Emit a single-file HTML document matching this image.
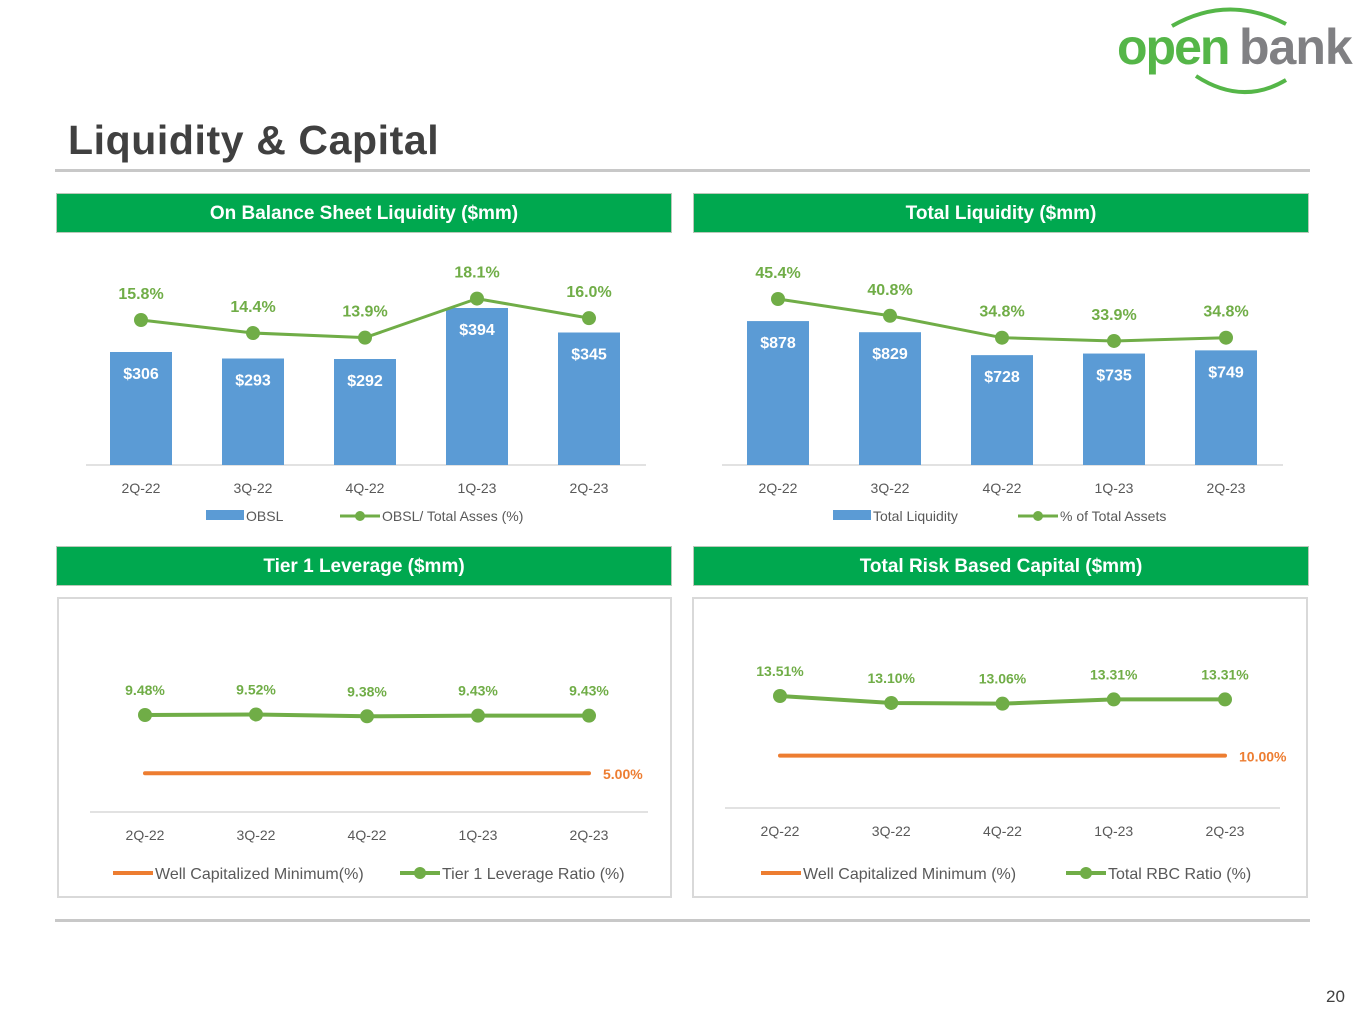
<!DOCTYPE html>
<html><head><meta charset="utf-8"><style>
html,body{margin:0;padding:0;background:#fff;}
body{width:1365px;height:1024px;position:relative;overflow:hidden;font-family:"Liberation Sans",sans-serif;}
.hdr{position:absolute;height:40px;background:#00a84f;border:1px solid #b9c9b9;box-sizing:border-box;color:#fff;font-weight:bold;font-size:19px;text-align:center;line-height:40px;}
svg text{font-family:"Liberation Sans",sans-serif;}
</style></head><body>
<div style="position:absolute;left:68px;top:117px;font-size:41px;font-weight:bold;color:#404040;letter-spacing:0.6px;">Liquidity &amp; Capital</div>
<div style="position:absolute;left:55px;top:169px;width:1255px;height:3px;background:#c8c8c8;"></div>
<div style="position:absolute;left:55px;top:919px;width:1255px;height:3px;background:#c8c8c8;"></div>
<div style="position:absolute;left:1326px;top:987px;font-size:17px;color:#404040;">20</div>
<div style="position:absolute;left:1110px;top:0;width:255px;height:100px;">
<svg width="255" height="100"><path d="M62 26 Q118 -6 176 24" fill="none" stroke="#55b648" stroke-width="4"/><path d="M86 76 Q132 106 176 80" fill="none" stroke="#55b648" stroke-width="4"/>
<text x="7" y="64" font-size="50" font-weight="bold" fill="#55b648" letter-spacing="-2">open</text><text x="129" y="64" font-size="50" font-weight="bold" fill="#808083" letter-spacing="-1">bank</text></svg></div>
<div class="hdr" style="left:56px;top:193px;width:616px;">On Balance Sheet Liquidity ($mm)</div>
<div class="hdr" style="left:693px;top:193px;width:616px;">Total Liquidity ($mm)</div>
<div class="hdr" style="left:56px;top:546px;width:616px;">Tier 1 Leverage ($mm)</div>
<div class="hdr" style="left:693px;top:546px;width:616px;">Total Risk Based Capital ($mm)</div>
<div style="position:absolute;left:57px;top:597px;width:615px;height:301px;border:2px solid #d9d9d9;box-sizing:border-box;"></div>
<div style="position:absolute;left:692px;top:597px;width:616px;height:301px;border:2px solid #d9d9d9;box-sizing:border-box;"></div>
<svg id="charts" width="1365" height="1024" style="position:absolute;left:0;top:0;"></svg>
<script>
const categories=["2Q-22","3Q-22","4Q-22","1Q-23","2Q-23"];
const obslValues=[306,293,292,394,345];
const obslPct=[15.8,14.4,13.9,18.1,16.0];
const liqValues=[878,829,728,735,749];
const liqPct=[45.4,40.8,34.8,33.9,34.8];
const tier1Ratio=[9.48,9.52,9.38,9.43,9.43];
const tier1Min=[5.00];
const rbcRatio=[13.51,13.10,13.06,13.31,13.31];
const rbcMin=[10.00];

const svg=document.getElementById('charts');
const NS='http://www.w3.org/2000/svg';
function mk(tag,attrs,parent){const e=document.createElementNS(NS,tag);for(const k in attrs)e.setAttribute(k,attrs[k]);(parent||svg).appendChild(e);return e;}
function txt(x,y,s,size,fill,weight,anchor){const t=mk('text',{x:x,y:y,'font-size':size,fill:fill,'font-weight':weight||'normal','text-anchor':anchor||'middle'});t.textContent=s;return t;}
const GREEN='#70ad47',BLUE='#5b9bd5',ORANGE='#ed7d31',GRAY='#595959';

function xAt(x0,i){return x0+i*112;}

function barChart(name,x0,base,vals,vBase,vScale,pct,pBase,pY,pScale,fmtP,leg1,leg2,legX1,legX2,axL,axR){
  const g=mk('g',{});
  
  
  const ax=mk('line',{x1:axL,x2:axR,y1:base,y2:base,stroke:'#d9d9d9','stroke-width':1.5},g);
  
  
  vals.forEach((v,i)=>{
    const cx=xAt(x0,i);const top=base-(v-vBase)*vScale;
    const r=mk('rect',{x:cx-31,y:top,width:62,height:base-top,fill:BLUE},g);
    
    
    const t=txt(cx,top+27,'$'+v,16,'#fff','bold');g.appendChild(t);
    
    
    const c=txt(cx,base+28,categories[i],14,GRAY);g.appendChild(c);
    
    
  });
  const pts=pct.map((p,i)=>[xAt(x0,i),pY-(p-pBase)*pScale]);
  const pl=mk('polyline',{points:pts.map(p=>p.join(',')).join(' '),fill:'none',stroke:GREEN,'stroke-width':3},g);
  
  
  pts.forEach((p,i)=>{
    const c=mk('circle',{cx:p[0],cy:p[1],r:7,fill:GREEN},g);
    
    
    const t=txt(p[0],p[1]-21,pct[i].toFixed(1)+'%',16,GREEN,'bold');g.appendChild(t);
    
    
  });
  const ly=516;
  const lr=mk('rect',{x:legX1,y:ly-6,width:38,height:10,fill:BLUE},g);
  
  
  const lt=txt(legX1+40,ly+5,leg1,14,GRAY,'normal','start');g.appendChild(lt);
  
  
  const ll=mk('line',{x1:legX2,x2:legX2+40,y1:ly,y2:ly,stroke:GREEN,'stroke-width':3},g);
  
  
  mk('circle',{cx:legX2+20,cy:ly,r:5,fill:GREEN},g);
  const lt2=txt(legX2+42,ly+5,leg2,14,GRAY,'normal','start');g.appendChild(lt2);
  
  
}
barChart('obsl-chart',141,465,obslValues,80,0.5,obslPct,15.8,320,9.3,null,'OBSL','OBSL/ Total Asses (%)',206,340,86,646);
barChart('total-liquidity-chart',778,465,liqValues,244,0.227,liqPct,45.4,299,3.65,null,'Total Liquidity','% of Total Assets',833,1018,722,1283);

function lineChart(name,x0,step,vals,vRef,yRef,scale,minV,axY,leg1,leg2,legX1,legX2,axL,axR,legY){
  const g=mk('g',{});
  
  
  const X=i=>x0+i*step;
  const ax=mk('line',{x1:axL,x2:axR,y1:axY,y2:axY,stroke:'#d9d9d9','stroke-width':1.5},g);
  
  
  categories.forEach((c,i)=>{const t=txt(X(i),axY+28,c,14,GRAY);g.appendChild(t);
    
    });
  const my=yRef-(minV-vRef)*scale;
  const ml=mk('line',{x1:X(0),x2:X(4),y1:my,y2:my,stroke:ORANGE,'stroke-width':4,'stroke-linecap':'round'},g);
  
  
  const mt=txt(X(4)+14,my+6,minV.toFixed(2)+'%',14,ORANGE,'bold','start');g.appendChild(mt);
  
  
  const pts=vals.map((v,i)=>[X(i),yRef-(v-vRef)*scale]);
  const pl=mk('polyline',{points:pts.map(p=>p.join(',')).join(' '),fill:'none',stroke:GREEN,'stroke-width':4},g);
  
  
  pts.forEach((p,i)=>{
    const c=mk('circle',{cx:p[0],cy:p[1],r:7,fill:GREEN},g);
    
    
    const t=txt(p[0],p[1]-20,vals[i].toFixed(2)+'%',14,GREEN,'bold');g.appendChild(t);
    
    
  });
  const l1=mk('line',{x1:legX1,x2:legX1+40,y1:legY,y2:legY,stroke:ORANGE,'stroke-width':4},g);
  
  
  const t1=txt(legX1+42,legY+6,leg1,16,GRAY,'normal','start');g.appendChild(t1);
  
  
  const l2=mk('line',{x1:legX2,x2:legX2+40,y1:legY,y2:legY,stroke:GREEN,'stroke-width':4},g);
  
  
  mk('circle',{cx:legX2+20,cy:legY,r:6,fill:GREEN},g);
  const t2=txt(legX2+42,legY+6,leg2,16,GRAY,'normal','start');g.appendChild(t2);
  
  
}
lineChart('tier1-chart',145,111,tier1Ratio,9.48,715,13,tier1Min[0],812,'Well Capitalized Minimum(%)','Tier 1 Leverage Ratio (%)',113,400,90,648,873);
lineChart('rbc-chart',780,111.25,rbcRatio,13.51,696,17,rbcMin[0],808,'Well Capitalized Minimum (%)','Total RBC Ratio (%)',761,1066,725,1280,873);
</script>
</body></html>
